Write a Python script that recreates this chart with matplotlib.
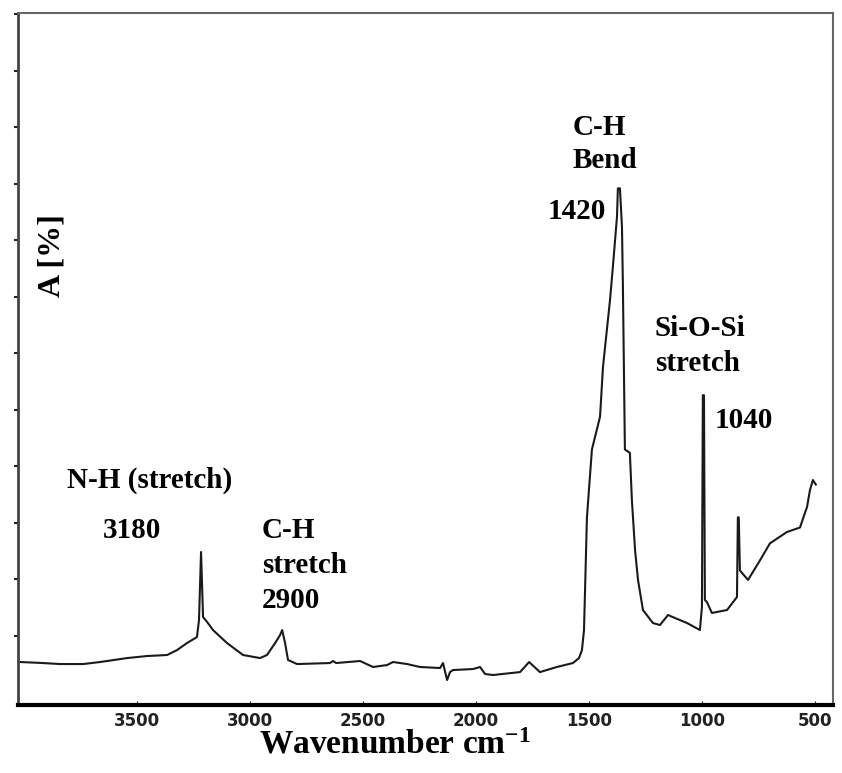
import numpy as np
import matplotlib.pyplot as plt

# FTIR spectrum, values
wavenumber = [4018, 3916, 3841, 3739, 3664, 3633, 3544, 3456, 3367, 3323,
              3279, 3235, 3226, 3217, 3208, 3190, 3164, 3102, 3031, 2956,
              2925, 2889, 2867, 2858, 2845, 2832, 2792, 2646, 2633, 2619,
              2513, 2456, 2394, 2367, 2305, 2248, 2159, 2146, 2128, 2115,
              2102, 2013, 1982, 1960, 1925, 1805, 1765, 1717, 1642, 1571,
              1544, 1531, 1522, 1509, 1487, 1451, 1438, 1407, 1394, 1376,
              1372, 1363, 1354, 1350, 1341, 1319, 1310, 1296, 1283, 1261,
              1217, 1186, 1150, 1119, 1066, 1009, 1000, 996, 991, 987,
              978, 956, 889, 845, 841, 837, 832, 796, 743, 699,
              624, 566, 544, 535, 522, 509, 496]
absorbance = [2.70, 2.61, 2.52, 2.52, 2.70, 2.79, 3.05, 3.23, 3.32, 3.76,
              4.38, 4.91, 6.42, 12.43, 6.68, 6.24, 5.53, 4.38, 3.32, 3.05,
              3.32, 4.38, 5.09, 5.53, 4.38, 2.88, 2.52, 2.61, 2.79, 2.61,
              2.79, 2.26, 2.43, 2.70, 2.52, 2.26, 2.17, 2.61, 1.11, 1.81,
              1.99, 2.08, 2.26, 1.64, 1.55, 1.81, 2.70, 1.81, 2.26, 2.61,
              3.05, 3.76, 5.53, 15.5, 21.5, 24.4, 28.8, 34.7, 37.7, 42.1,
              44.6, 44.6, 41.2, 36.2, 21.5, 21.2, 17.0, 12.6, 9.96, 7.30,
              6.15, 5.97, 6.86, 6.59, 6.15, 5.53, 7.57, 26.3, 26.3, 8.19,
              8.01, 7.04, 7.30, 8.45, 15.5, 15.5, 10.8, 9.96, 11.7, 13.2,
              14.2, 14.6, 15.9, 16.4, 17.9, 18.8, 18.4]

xticks = [3500, 3000, 2500, 2000, 1500, 1000, 500]
yticks = np.arange(5, 61, 5)

serif = ['Liberation Serif', 'DejaVu Serif']

fig = plt.figure(figsize=(8.42, 7.73), dpi=100)
ax = fig.add_axes([0.0214, 0.088, 0.9679, 0.895])

ax.plot(wavenumber, absorbance, color='#1a1a1a', lw=1.5)

ax.set_xlim(4027, 420)
ax.set_ylim(-1.1, 60.1)
ax.set_xticks(xticks)
ax.set_xticklabels([str(v) for v in xticks], fontsize=12, fontweight='bold',
                   family=['Liberation Sans Narrow', 'DejaVu Sans'])
ax.set_yticks(yticks)
ax.set_yticklabels([])
ax.tick_params(axis='x', direction='in', length=3, pad=5, colors='#222222')
ax.tick_params(axis='y', direction='out', length=3, width=1.5, colors='#222222')

ax.spines['bottom'].set_linewidth(3)
ax.spines['bottom'].set_color('black')
ax.spines['left'].set_linewidth(2)
ax.spines['left'].set_color('#444444')
ax.spines['top'].set_linewidth(1.5)
ax.spines['top'].set_color('#666666')
ax.spines['right'].set_linewidth(1.5)
ax.spines['right'].set_color('#666666')

ax.set_xlabel(r'Wavenumber $\mathregular{cm^{-1}}$', fontsize=24,
              fontweight='bold', family=serif)
ax.xaxis.set_label_coords(0.463, -0.036, transform=ax.transAxes)
ax.xaxis.label.set_va('top')

# annotations
kw = dict(fontsize=21, fontweight='bold', family=serif, va='baseline', ha='left')
fig.text(0.062, 0.67, 'A [%]', rotation=90, fontsize=23, fontweight='bold',
         family=serif, ha='center', va='center')
ax.text(3810, 18.1, 'N-H (stretch)', **kw)
ax.text(3650, 13.7, '3180', **kw)
ax.text(2947, 13.7, 'C-H', **kw)
ax.text(2947, 10.6, 'stretch', **kw)
ax.text(2947, 7.5, '2900', **kw)
ax.text(1571, 49.3, 'C-H', **kw)
ax.text(1571, 46.4, 'Bend', **kw)
ax.text(1681, 41.9, '1420', **kw)
ax.text(1208, 31.5, 'Si-O-Si', **kw)
ax.text(1208, 28.4, 'stretch', **kw)
ax.text(942, 23.4, '1040', **kw)

fig.savefig('out.png', dpi=100)
